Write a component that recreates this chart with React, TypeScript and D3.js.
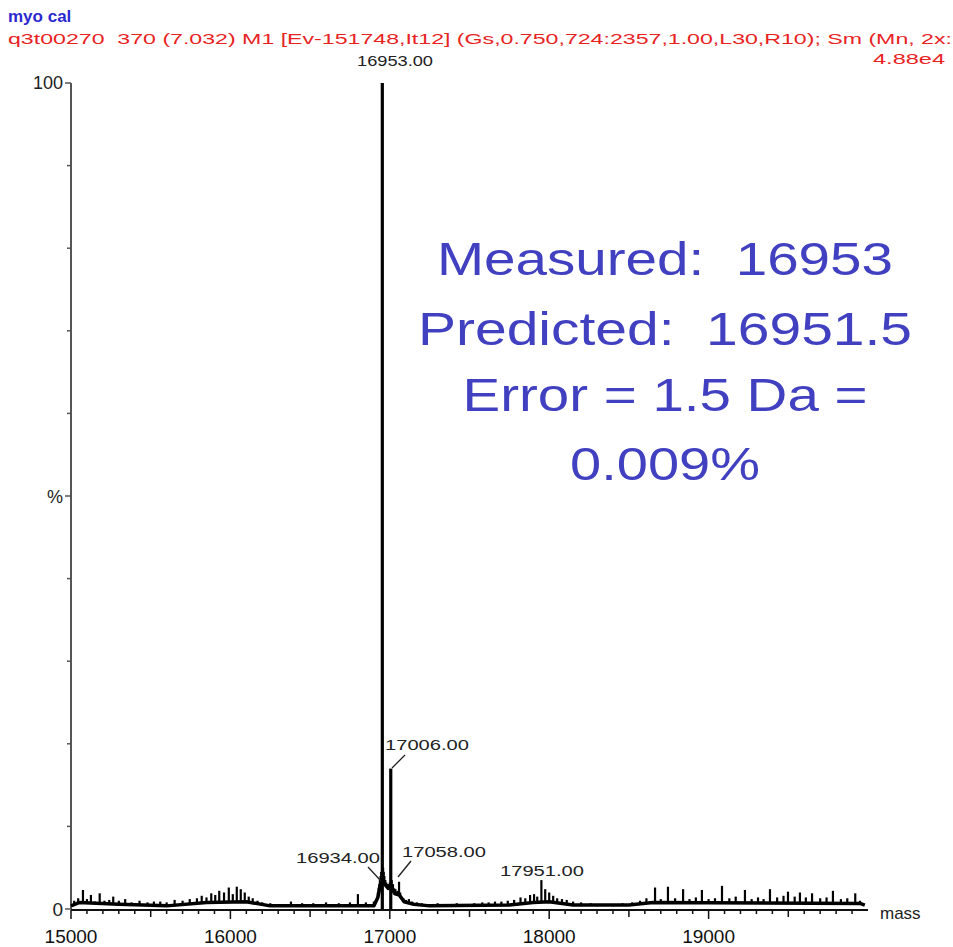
import React from "react";
import * as d3 from "d3";

const W = 953;
const H = 947;

// spectrum sticks: mass (Da) and relative intensity (%)
const stickMass = [
  15020, 15045, 15075, 15100, 15125, 15150, 15180, 15210, 15240, 15265, 15300, 15340, 15380, 15430, 15480,
  15520, 15560, 15600, 15650, 15700, 15745, 15790, 15820, 15850, 15880, 15905, 15930, 15960, 15990, 16015,
  16040, 16065, 16090, 16115, 16140, 16170, 16200, 16250, 16300, 16380, 16450, 16520, 16600, 16680, 16750,
  16800, 16850, 16900, 16925, 16930, 16934, 16938, 16942, 16946, 16958, 16962, 16966, 16972, 16978, 16985,
  16990, 16995, 17000, 17012, 17015, 17020, 17028, 17035, 17040, 17048, 17058, 17065,
  17070, 17085, 17100, 17120, 17140, 17170, 17200, 17250, 17300, 17360, 17420, 17480, 17530, 17580, 17620,
  17660, 17700, 17740, 17780, 17820, 17850, 17880, 17905, 17925, 17951, 17975, 18000, 18025, 18050, 18080,
  18110, 18150, 18200, 18260, 18320, 18400, 18460, 18520, 18570, 18610, 18664, 18700, 18745, 18790, 18840,
  18880, 18920, 18958, 19000, 19040, 19084, 19130, 19170, 19228, 19270, 19310, 19345, 19385, 19430, 19470,
  19498, 19540, 19573, 19610, 19649, 19700, 19740, 19780, 19830, 19870, 19920, 19950,
];
const stickIntensity = [
  1.0, 1.3, 2.3, 1.2, 1.7, 0.9, 1.9, 1.0, 1.1, 1.5, 1.0, 1.2, 0.8, 1.0, 0.8,
  0.9, 0.9, 0.8, 1.1, 1.0, 1.2, 1.3, 1.6, 1.4, 1.9, 1.7, 2.2, 2.0, 2.6, 1.8,
  2.7, 2.4, 2.0, 1.5, 1.3, 1.0, 0.8, 0.7, 0.6, 0.9, 0.7, 0.7, 0.8, 0.7, 0.8,
  1.8, 0.8, 0.9, 2.0, 2.6, 3.0, 3.6, 4.0, 4.5, 5.0, 4.5, 4.0, 3.5, 3.2, 3.0,
  3.0, 2.8, 3.2, 3.5, 3.0, 3.0, 2.5, 2.4, 2.0, 2.2, 3.3, 2.0,
  1.5, 1.3, 1.1, 1.2, 0.9, 0.8, 0.7, 0.6, 0.7, 0.6, 0.7, 0.6, 0.7, 0.8, 0.8,
  0.9, 0.9, 1.0, 1.1, 1.4, 1.3, 1.7, 1.8, 1.5, 3.5, 2.4, 2.0, 1.6, 1.3, 1.2,
  1.1, 0.9, 0.8, 0.7, 0.6, 0.6, 0.7, 0.8, 1.0, 1.3, 2.6, 1.2, 2.7, 1.3, 2.4,
  1.2, 1.4, 2.3, 1.2, 1.3, 2.8, 1.3, 1.5, 2.3, 1.2, 1.4, 1.2, 2.4, 1.4, 1.6,
  2.1, 1.5, 2.0, 1.4, 1.9, 1.3, 1.4, 2.2, 1.2, 1.3, 1.9, 1.0,
];

// major peaks drawn heavier
const majorMass = [16953, 17006];
const majorIntensity = [100, 17];

// baseline level under the sticks
const baseMass = [15000, 15050, 15300, 15600, 15850, 16100, 16250, 16900, 16925, 16935, 16945, 16953, 16965, 16990, 17010, 17030, 17060, 17090, 17150, 17250, 17750, 17900, 18000, 18150, 18500, 18650, 19950, 19980];
const baseLevel = [0.5, 0.9, 0.7, 0.5, 0.9, 1.0, 0.5, 0.5, 1.5, 2.5, 3.5, 4.0, 3.2, 2.6, 2.8, 2.0, 1.8, 1.0, 0.7, 0.5, 0.6, 0.9, 1.0, 0.6, 0.6, 0.9, 0.8, 0.6];

// peak labels
const labelText = ["16953.00", "17006.00", "16934.00", "17058.00", "17951.00"];
const labelMass = [16953, 17006, 16934, 17058, 17951];
const labelIntensity = [100, 17, 2.6, 3.3, 3.5];

const xTickLabels = [15000, 16000, 17000, 18000, 19000];
const yTickValues = [0, 10, 20, 30, 40, 50, 60, 70, 80, 90, 100];

const headerTitle = "myo cal";
const headerInfo = "q3t00270  370 (7.032) M1 [Ev-151748,It12] (Gs,0.750,724:2357,1.00,L30,R10); Sm (Mn, 2x:";
const headerScale = "4.88e4";
const noteLines = ["Measured:  16953", "Predicted:  16951.5", "Error = 1.5 Da =", "0.009%"];

const FONT = "'Liberation Sans', Arial, Helvetica, sans-serif";

export default function App() {
  const x = d3.scaleLinear().domain([15000, 20000]).range([71, 868]);
  const y = d3.scaleLinear().domain([0, 100]).range([909, 83]);

  const baseLine = d3
    .line<number>()
    .x((_, i) => x(baseMass[i]))
    .y((_, i) => y(baseLevel[i]) + 1)
    .curve(d3.curveLinear)(baseMass);

  const baseAt = (m: number) => {
    const i = d3.bisectLeft(baseMass, m);
    if (i <= 0) return baseLevel[0];
    if (i >= baseMass.length) return baseLevel[baseLevel.length - 1];
    const t = (m - baseMass[i - 1]) / (baseMass[i] - baseMass[i - 1]);
    return baseLevel[i - 1] + t * (baseLevel[i] - baseLevel[i - 1]);
  };

  const minorTicks = d3.range(15000, 20000, 100);

  // label layout (text box left x, baseline y, width) and leader lines
  const labelBoxes = [
    { lx: 357, ly: 66, w: 76, leader: null as null | number[] },
    { lx: 385, ly: 750, w: 84, leader: [392, 768, 405, 755] },
    { lx: 296, ly: 863, w: 84, leader: [381, 881, 368, 867] },
    { lx: 402, ly: 857, w: 84, leader: [398, 877, 411, 861] },
    { lx: 500, ly: 876, w: 84, leader: null },
  ];

  const noteY = [275, 345, 411, 480];
  const noteLen = [456, 494, 405, 190];
  const noteCx = 665;

  return (
    <svg width={W} height={H} style={{ position: "absolute", left: 0, top: 0, background: "#fff" }}>
      <rect width={W} height={H} fill="#fff" />
      {/* header */}
      <text x={8} y={22} fontFamily={FONT} fontWeight="bold" fontSize={17} fill="#2a2ad0">
        {headerTitle}
      </text>
      <text
        x={8}
        y={44}
        fontFamily={FONT}
        fontSize={15}
        fill="#e8231f"
        textLength={944}
        lengthAdjust="spacingAndGlyphs"
        style={{ whiteSpace: "pre" }}
      >
        {headerInfo}
      </text>
      <text x={873} y={64} fontFamily={FONT} fontSize={15} fill="#e8231f" textLength={72} lengthAdjust="spacingAndGlyphs">
        {headerScale}
      </text>

      {/* y axis */}
      <line x1={71} x2={71} y1={y(100)} y2={y(0)} stroke="#555" strokeWidth={2} />
      {yTickValues.map((v) => (
        <line key={v} x1={v % 50 === 0 ? 65 : 67} x2={71} y1={y(v)} y2={y(v)} stroke="#555" strokeWidth={1.5} />
      ))}
      <text x={63} y={y(100) + 6} fontFamily={FONT} fontSize={18} textAnchor="end" fill="#222">100</text>
      <text x={63} y={y(50) + 7} fontFamily={FONT} fontSize={18} textAnchor="end" fill="#222">%</text>
      <text x={63} y={y(0) + 7} fontFamily={FONT} fontSize={19} textAnchor="end" fill="#222">0</text>

      {/* x axis */}
      <line x1={71} x2={868} y1={910} y2={910} stroke="#111" strokeWidth={2} />
      {minorTicks.map((m) => (
        <line
          key={m}
          x1={x(m)}
          x2={x(m)}
          y1={910}
          y2={m % 1000 === 0 ? 919 : m % 500 === 0 ? 917 : 914}
          stroke="#111"
          strokeWidth={1.5}
        />
      ))}
      {xTickLabels.map((m) => (
        <text key={m} x={x(m)} y={943} fontFamily={FONT} fontSize={19} textAnchor="middle" fill="#111">
          {m}
        </text>
      ))}
      <text x={880} y={919} fontFamily={FONT} fontSize={17} fill="#222">mass</text>

      {/* spectrum */}
      <path d={baseLine || ""} fill="none" stroke="#000" strokeWidth={3.5} strokeLinejoin="round" />
      {stickMass.map((m, i) => (
        <line
          key={m}
          x1={x(m)}
          x2={x(m)}
          y1={y(baseAt(m)) + 1}
          y2={y(stickIntensity[i])}
          stroke="#000"
          strokeWidth={2.2}
        />
      ))}
      {majorMass.map((m, i) => (
        <line key={m} x1={x(m)} x2={x(m)} y1={909} y2={y(majorIntensity[i])} stroke="#000" strokeWidth={3.2} />
      ))}

      {/* peak labels */}
      {labelText.map((t, i) => {
        const b = labelBoxes[i];
        return (
          <g key={t} data-mass={labelMass[i]} data-int={labelIntensity[i]}>
            <text
              x={b.lx}
              y={b.ly}
              fontFamily={FONT}
              fontSize={15}
              fill="#222"
              textLength={b.w}
              lengthAdjust="spacingAndGlyphs"
            >
              {t}
            </text>
            {b.leader && (
              <line x1={b.leader[0]} y1={b.leader[1]} x2={b.leader[2]} y2={b.leader[3]} stroke="#222" strokeWidth={1.3} />
            )}
          </g>
        );
      })}

      {/* annotation */}
      {noteLines.map((t, i) => (
        <text
          key={t}
          x={noteCx - noteLen[i] / 2}
          y={noteY[i]}
          fontFamily={FONT}
          fontSize={46}
          fill="#4040c0"
          textLength={noteLen[i]}
          lengthAdjust="spacingAndGlyphs"
          style={{ whiteSpace: "pre" }}
        >
          {t}
        </text>
      ))}
    </svg>
  );
}
